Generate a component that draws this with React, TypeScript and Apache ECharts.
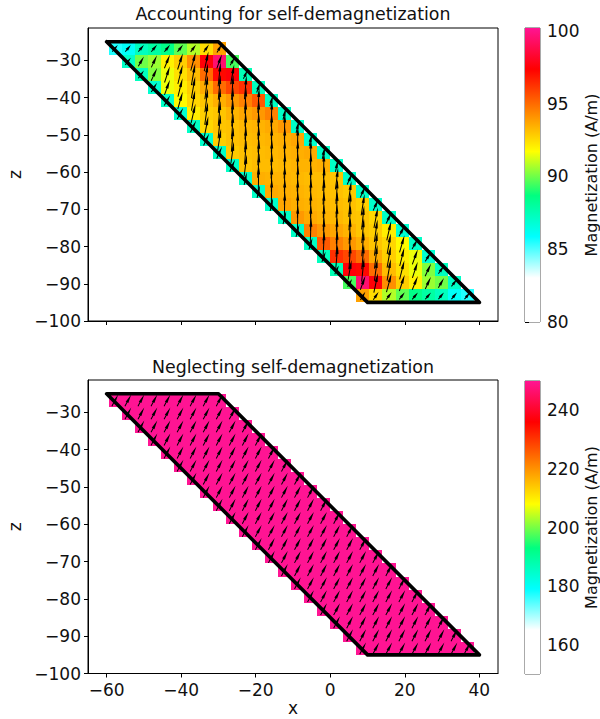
import React, { useEffect, useRef } from "react";
import * as echarts from "echarts";

const FONT = "DejaVu Sans";
const xTicks = [-60, -40, -20, 0, 20, 40];
const zTicks = [-100, -90, -80, -70, -60, -50, -40, -30];
const barTicksTop = [80, 85, 90, 95, 100];
const barTicksBottom = [160, 180, 200, 220, 240];
const polyX = [-60, -30, 40, 10, -60];
const polyZ = [-25, -25, -95, -95, -25];
const rowZ = [-26.75, -30.25, -33.75, -37.25, -40.75, -44.25, -47.75, -51.25, -54.75, -58.25, -61.75, -65.25, -68.75, -72.25, -75.75, -79.25, -82.75, -86.25, -89.75, -93.25];
const rowFirstX = [-57.75, -54.25, -50.75, -47.25, -43.75, -40.25, -36.75, -33.25, -29.75, -26.25, -22.75, -19.25, -15.75, -12.25, -8.75, -5.25, -1.75, 1.75, 5.25, 8.75];
const cellStep = 3.5;

const withDemagValues = [
  [85.5, 86, 87.3, 87.9, 88.5, 89.8, 90.8, 92.5, 93.8],
  [87.1, 90, 90.5, 92, 92.8, 94.2, 97.5, 99.5, 89.5],
  [87.3, 90.2, 91.5, 92.4, 93.2, 95, 97.2, 97.5, 87.5],
  [86.9, 91.5, 92.1, 92.8, 93.6, 95, 95.8, 96.3, 87.3],
  [87.1, 91.8, 92.6, 93, 93.5, 94, 94.5, 95.4, 87.2],
  [86.9, 92.1, 92.8, 93, 93.4, 93.7, 94, 94.5, 87.1],
  [87.1, 92.6, 93, 93.1, 93.3, 93.4, 93.6, 94, 87.1],
  [87, 92.8, 93.1, 93.2, 93.3, 93.4, 93.5, 93.7, 87],
  [87.1, 92.9, 93.1, 93.2, 93.3, 93.4, 93.5, 93.6, 87.1],
  [87.1, 93, 93.2, 93.2, 93.3, 93.4, 93.4, 93.5, 87.1],
  [87.1, 93.5, 93.4, 93.4, 93.3, 93.2, 93.2, 93, 87.1],
  [87.1, 93.6, 93.5, 93.4, 93.3, 93.2, 93.1, 92.9, 87.1],
  [87, 93.7, 93.5, 93.4, 93.3, 93.2, 93.1, 92.8, 87],
  [87.1, 94, 93.6, 93.4, 93.3, 93.1, 93, 92.6, 87.1],
  [87.1, 94.5, 94, 93.7, 93.4, 93, 92.8, 92.1, 86.9],
  [87.2, 95.4, 94.5, 94, 93.5, 93, 92.6, 91.8, 87.1],
  [87.3, 96.3, 95.8, 95, 93.6, 92.8, 92.1, 91.5, 86.9],
  [87.5, 97.5, 97.2, 95, 93.2, 92.4, 91.5, 90.2, 87.3],
  [89.5, 99.5, 97.5, 94.2, 92.8, 92, 90.5, 90, 87.1],
  [93.8, 92.5, 90.8, 89.8, 88.5, 87.9, 87.3, 86, 85.5],
];
const withDemagLen = [
  [2.3, 2.3, 2.3, 2.4, 2.4, 2.4, 2.4, 2.5, 2.6],
  [2.4, 3.0, 3.6, 4.0, 4.6, 5.2, 5.4, 4.0, 2.4],
  [2.6, 3.8, 4.6, 5.3, 5.9, 5.9, 6.4, 5.4, 2.6],
  [2.9, 4.3, 5.1, 5.9, 6.4, 6.7, 6.7, 6.4, 2.9],
  [3.2, 4.8, 5.6, 6.4, 6.7, 7, 7, 6.7, 3.2],
  [3.4, 5.3, 6.1, 6.7, 7, 7, 7, 7, 3.4],
  [3.5, 5.6, 6.4, 6.8, 7, 7, 7, 7, 3.5],
  [3.5, 5.8, 6.6, 6.9, 7, 7, 7, 7, 3.5],
  [3.5, 5.8, 6.6, 6.9, 7, 7, 7, 7, 3.5],
  [3.5, 5.8, 6.6, 6.9, 7, 7, 7, 7, 3.5],
  [3.5, 7, 7, 7, 7, 6.9, 6.6, 5.8, 3.5],
  [3.5, 7, 7, 7, 7, 6.9, 6.6, 5.8, 3.5],
  [3.5, 7, 7, 7, 7, 6.9, 6.6, 5.8, 3.5],
  [3.5, 7, 7, 7, 7, 6.8, 6.4, 5.6, 3.5],
  [3.4, 7, 7, 7, 7, 6.7, 6.1, 5.3, 3.4],
  [3.2, 6.7, 7, 7, 6.7, 6.4, 5.6, 4.8, 3.2],
  [2.9, 6.4, 6.7, 6.7, 6.4, 5.9, 5.1, 4.3, 2.9],
  [2.6, 5.4, 6.4, 5.9, 5.9, 5.3, 4.6, 3.8, 2.6],
  [2.4, 4.0, 5.4, 5.2, 4.6, 4.0, 3.6, 3.0, 2.4],
  [2.6, 2.5, 2.4, 2.4, 2.4, 2.4, 2.3, 2.3, 2.3],
];
const withDemagAngle = [
  [50, 50, 50, 50, 51, 52, 54, 56, 60],
  [52, 60, 65, 68, 72, 75, 78, 70, 60],
  [55, 65, 72, 76, 80, 82, 84, 80, 65],
  [58, 70, 76, 80, 83, 85, 86, 85, 70],
  [60, 74, 80, 83, 85, 87, 87, 87, 73],
  [62, 77, 82, 85, 87, 88, 88, 88, 75],
  [64, 79, 84, 86, 88, 88, 89, 89, 76],
  [65, 81, 85, 87, 88, 89, 89, 89, 77],
  [66, 82, 86, 87, 88, 89, 89, 89, 77],
  [66, 83, 86, 88, 88, 89, 89, 89, 78],
  [78, 89, 89, 89, 88, 88, 86, 83, 66],
  [77, 89, 89, 89, 88, 87, 86, 82, 66],
  [77, 89, 89, 89, 88, 87, 85, 81, 65],
  [76, 89, 89, 88, 88, 86, 84, 79, 64],
  [75, 88, 88, 88, 87, 85, 82, 77, 62],
  [73, 87, 87, 87, 85, 83, 80, 74, 60],
  [70, 85, 86, 85, 83, 80, 76, 70, 58],
  [65, 80, 84, 82, 80, 76, 72, 65, 55],
  [60, 70, 78, 75, 72, 68, 65, 60, 52],
  [60, 56, 54, 52, 51, 50, 50, 50, 50],
];
const neglectValue = 250;
const neglectLen = 3.6;
const neglectAngle = 62;

const cmapStops: [number, string][] = [
  [0, "#ffffff"],
  [0.15, "#ffffff"],
  [0.29, "#00ffff"],
  [0.43, "#00ff80"],
  [0.58, "#ffff00"],
  [0.86, "#ff0000"],
  [1, "#ff1493"],
];

function hexRgb(h: string) {
  return [parseInt(h.slice(1, 3), 16), parseInt(h.slice(3, 5), 16), parseInt(h.slice(5, 7), 16)];
}
function cmap(f: number) {
  const t = Math.max(0, Math.min(1, f));
  for (let i = 1; i < cmapStops.length; i++) {
    const [f0, c0] = cmapStops[i - 1];
    const [f1, c1] = cmapStops[i];
    if (t <= f1) {
      const k = (t - f0) / (f1 - f0);
      const a = hexRgb(c0);
      const b = hexRgb(c1);
      return `rgb(${a.map((v, j) => Math.round(v + (b[j] - v) * k)).join(",")})`;
    }
  }
  return cmapStops[cmapStops.length - 1][1];
}

const minusFmt = (v: number) => String(v).replace("-", "\u2212");

function cellRender(vmin: number, vmax: number) {
  return (_p: any, api: any) => {
    const x = api.value(0);
    const z = api.value(1);
    const a = api.coord([x - cellStep / 2, z + cellStep / 2]);
    const b = api.coord([x + cellStep / 2, z - cellStep / 2]);
    const x0 = Math.round(a[0]);
    const y0 = Math.round(a[1]);
    return {
      type: "rect",
      shape: { x: x0, y: y0, width: Math.round(b[0]) - x0, height: Math.round(b[1]) - y0 },
      style: { fill: cmap((api.value(2) - vmin) / (vmax - vmin)) },
    };
  };
}

const HEAD = 9;
const SHAFT = 1;
const HEADW = 3;
function arrowRender(_p: any, api: any) {
  const c = api.coord([api.value(0), api.value(1)]);
  const L = api.size([api.value(2), 0])[0];
  const ang = (api.value(3) * Math.PI) / 180;
  const dx = Math.cos(ang);
  const dy = -Math.sin(ang);
  const nx = -dy;
  const ny = dx;
  const pt = (along: number, off: number) => [
    c[0] + dx * (along - L / 2) + nx * off,
    c[1] + dy * (along - L / 2) + ny * off,
  ];
  const neck = Math.max(L - HEAD, L * 0.28);
  return {
    type: "polygon",
    shape: {
      points: [
        pt(0, SHAFT / 2),
        pt(neck, SHAFT / 2),
        pt(neck, HEADW / 2),
        pt(L, 0),
        pt(neck, -HEADW / 2),
        pt(neck, -SHAFT / 2),
        pt(0, -SHAFT / 2),
      ],
    },
    style: { fill: "#000" },
  };
}

function cellData(vals: (r: number, c: number) => number) {
  const out: number[][] = [];
  rowZ.forEach((z, r) => {
    for (let c = 0; c < 9; c++) out.push([rowFirstX[r] + c * cellStep, z, vals(r, c)]);
  });
  return out;
}
function arrowData(len: (r: number, c: number) => number, ang: (r: number, c: number) => number) {
  const out: number[][] = [];
  rowZ.forEach((z, r) => {
    for (let c = 0; c < 9; c++) out.push([rowFirstX[r] + c * cellStep, z, len(r, c), ang(r, c)]);
  });
  return out;
}

function barRender(vmin: number, vmax: number) {
  return (_p: any, api: any) => {
    const a = api.coord([0, vmax]);
    const b = api.coord([1, vmin]);
    return {
      type: "rect",
      shape: { x: a[0], y: a[1], width: b[0] - a[0], height: b[1] - a[1] },
      style: {
        fill: new echarts.graphic.LinearGradient(
          0, 1, 0, 0,
          cmapStops.map(([offset, color]) => ({ offset, color }))
        ),
      },
    };
  };
}

export default function App() {
  const ref = useRef<HTMLDivElement>(null);
  useEffect(() => {
    const chart = echarts.init(ref.current!, null, { renderer: "svg" });
    const labelStyle = { fontFamily: FONT, fontSize: 17, color: "#111" };
    const axisLine = { show: true, onZero: false, lineStyle: { color: "#000", width: 1 } };
    const mainX = (gridIndex: number, labels: boolean) => ({
      type: "value",
      gridIndex,
      min: -65,
      max: 45,
      splitLine: { show: false },
      axisLine,
      axisTick: { show: true, length: 4, inside: false, customValues: xTicks, lineStyle: { color: "#000" } },
      axisLabel: { show: labels, ...labelStyle, margin: 8, formatter: minusFmt, customValues: xTicks },
      ...(labels
        ? { name: "x", nameLocation: "middle", nameGap: 26, nameTextStyle: { fontFamily: FONT, fontSize: 17, color: "#111" } }
        : {}),
    });
    const mainY = (gridIndex: number) => ({
      type: "value",
      gridIndex,
      min: -100,
      max: -21.3,
      splitLine: { show: false },
      axisLine,
      axisTick: { show: true, length: 4, customValues: zTicks, lineStyle: { color: "#000" } },
      axisLabel: { ...labelStyle, margin: 7, formatter: minusFmt, customValues: zTicks },
      name: "z",
      nameLocation: "middle",
      nameRotate: 90,
      nameGap: 62,
      nameTextStyle: { fontFamily: FONT, fontSize: 17, color: "#111" },
    });
    const barX = (gridIndex: number) => ({ type: "value", gridIndex, min: 0, max: 1, show: false });
    const barY = (gridIndex: number, min: number, max: number, ticks: number[], gap: number) => ({
      type: "value",
      gridIndex,
      position: "right",
      min,
      max,
      splitLine: { show: false },
      axisLine: { show: false },
      axisTick: { show: true, length: 4, customValues: ticks, lineStyle: { color: "#000" } },
      axisLabel: { ...labelStyle, margin: 7, customValues: ticks },
      name: "Magnetization (A/m)",
      nameLocation: "middle",
      nameRotate: 90,
      nameGap: gap,
      nameTextStyle: { fontFamily: FONT, fontSize: 16, color: "#111" },
    });
    const outline = (idx: number) => ({
      type: "line",
      xAxisIndex: idx,
      yAxisIndex: idx,
      data: polyX.map((x, i) => [x, polyZ[i]]),
      showSymbol: false,
      symbol: "none",
      clip: false,
      z: 5,
      lineStyle: { color: "#000", width: 3.6, cap: "round", join: "round" },
    });
    const cust = (idx: number, data: number[][], renderItem: any, z: number) => ({
      type: "custom",
      xAxisIndex: idx,
      yAxisIndex: idx,
      data,
      renderItem,
      encode: { x: 0, y: 1 },
      clip: false,
      silent: true,
      z,
    });
    const gridBase = { show: true, borderWidth: 1, backgroundColor: "transparent", containLabel: false, outerBoundsMode: "none" };
    chart.setOption({
      animation: false,
      backgroundColor: "#fff",
      title: [
        { text: "Accounting for self-demagnetization", left: 288, top: 0, textAlign: "center", textStyle: { fontFamily: FONT, fontSize: 17.4, fontWeight: "normal", color: "#111" } },
        { text: "Neglecting self-demagnetization", left: 288, top: 353, textAlign: "center", textStyle: { fontFamily: FONT, fontSize: 17.4, fontWeight: "normal", color: "#111" } },
      ],
      grid: [
        { ...gridBase, left: 88, top: 28, width: 410, height: 293, borderColor: "#000" },
        { ...gridBase, left: 88, top: 380, width: 410, height: 293.5, borderColor: "#000" },
        { ...gridBase, left: 525, top: 28, width: 15, height: 294, borderColor: "#555" },
        { ...gridBase, left: 525, top: 381, width: 15, height: 293, borderColor: "#555" },
      ],
      xAxis: [mainX(0, false), mainX(1, true), barX(2), barX(3)],
      yAxis: [mainY(0), mainY(1), barY(2, 80, 100.2, barTicksTop, 42), barY(3, 150, 250, barTicksBottom, 42)],
      series: [
        cust(0, cellData((r, c) => withDemagValues[r][c]), cellRender(80, 100.2), 2),
        cust(0, arrowData((r, c) => withDemagLen[r][c], (r, c) => withDemagAngle[r][c]), arrowRender, 3),
        outline(0),
        cust(1, cellData(() => neglectValue), cellRender(150, 250), 2),
        cust(1, arrowData(() => neglectLen, () => neglectAngle), arrowRender, 3),
        outline(1),
        cust(2, [[0, 80]], barRender(80, 100.2), 2),
        cust(3, [[0, 150]], barRender(150, 250), 2),
      ],
    });
    return () => chart.dispose();
  }, []);
  return <div ref={ref} style={{ position: "absolute", left: 0, top: 0, width: 600, height: 719 }} />;
}
